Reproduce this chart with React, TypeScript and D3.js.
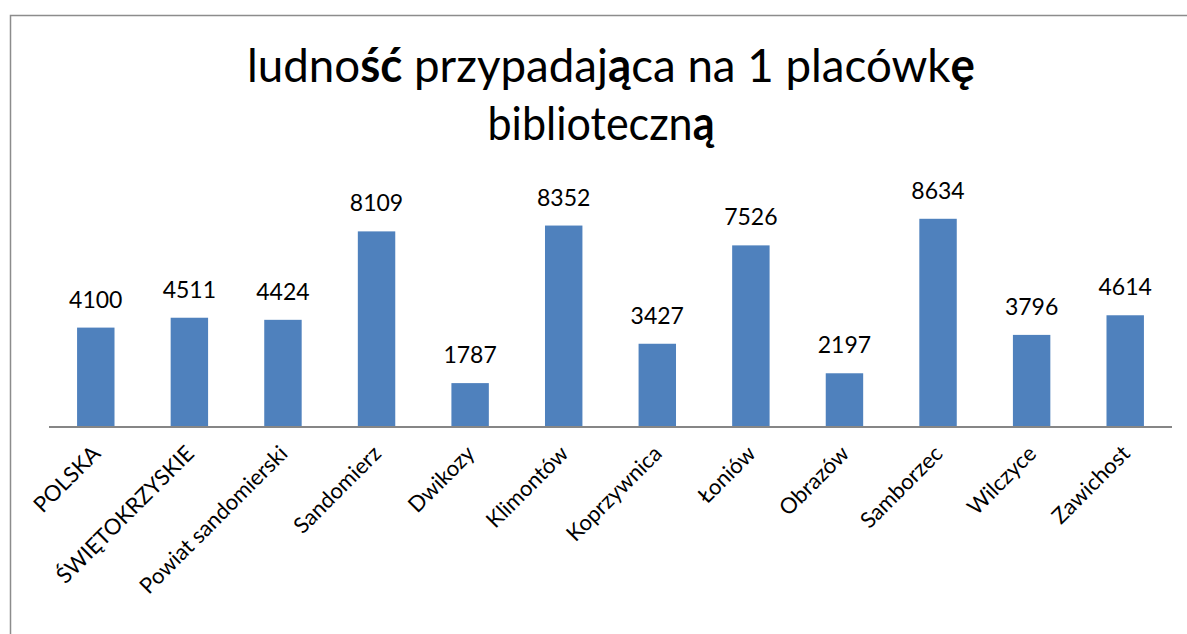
import React from "react";
import * as d3 from "d3";

const categories = [
  "POLSKA",
  "ŚWIĘTOKRZYSKIE",
  "Powiat sandomierski",
  "Sandomierz",
  "Dwikozy",
  "Klimontów",
  "Koprzywnica",
  "Łoniów",
  "Obrazów",
  "Samborzec",
  "Wilczyce",
  "Zawichost",
];
const values = [4100, 4511, 4424, 8109, 1787, 8352, 3427, 7526, 2197, 8634, 3796, 4614];

const W = 1187;
const H = 634;
const margin = { left: 49, right: 15, baseline: 426 };

function App() {
  const x = d3
    .scaleBand<string>()
    .domain(categories)
    .range([margin.left, W - margin.right])
    .paddingInner(0.6)
    .paddingOuter(0.3);
  const y = d3.scaleLinear().domain([0, 10000]).range([margin.baseline, margin.baseline - 240]);

  const font = "Lato, 'Open Sans', sans-serif";

  return (
    <svg
      width={W}
      height={H}
      style={{ position: "absolute", left: 0, top: 0, background: "#fff" }}
    >
      <rect x={10.5} y={15.5} width={W + 20} height={H + 20} fill="#fff" stroke="#8c8c8c" strokeWidth={1.5} />
      {/* title, a bit condensed like the original */}
      <text
        x={611}
        y={82}
        textAnchor="middle"
        fontFamily={font}
        fontSize={47}
        fill="#000"
        textLength={728}
        lengthAdjust="spacingAndGlyphs"
      >
        ludno<tspan fontWeight="bold">ść</tspan> przypadaj<tspan fontWeight="bold">ą</tspan>ca na 1 placówk
        <tspan fontWeight="bold">ę</tspan>
      </text>
      <text
        x={601}
        y={140}
        textAnchor="middle"
        fontFamily={font}
        fontSize={47}
        fill="#000"
        textLength={227}
        lengthAdjust="spacingAndGlyphs"
      >
        biblioteczn<tspan fontWeight="bold">ą</tspan>
      </text>
      {categories.map((c, i) => (
        <g key={c}>
          <rect
            x={x(c)}
            y={y(values[i])}
            width={x.bandwidth()}
            height={y(0) - y(values[i])}
            fill="#4f81bd"
          />
          <text
            x={(x(c) as number) + x.bandwidth() / 2}
            y={y(values[i]) - 20}
            textAnchor="middle"
            fontFamily={font}
            fontSize={23}
            fill="#000"
          >
            {values[i]}
          </text>
          <text
            transform={`translate(${(x(c) as number) + x.bandwidth() / 2 + 6},${455}) rotate(-45)`}
            textAnchor="end"
            fontFamily={font}
            fontSize={22}
            fill="#000"
          >
            {c}
          </text>
        </g>
      ))}
      <line x1={margin.left} x2={W - margin.right} y1={y(0) + 1} y2={y(0) + 1} stroke="#868686" strokeWidth={2} />
    </svg>
  );
}

export default App;
